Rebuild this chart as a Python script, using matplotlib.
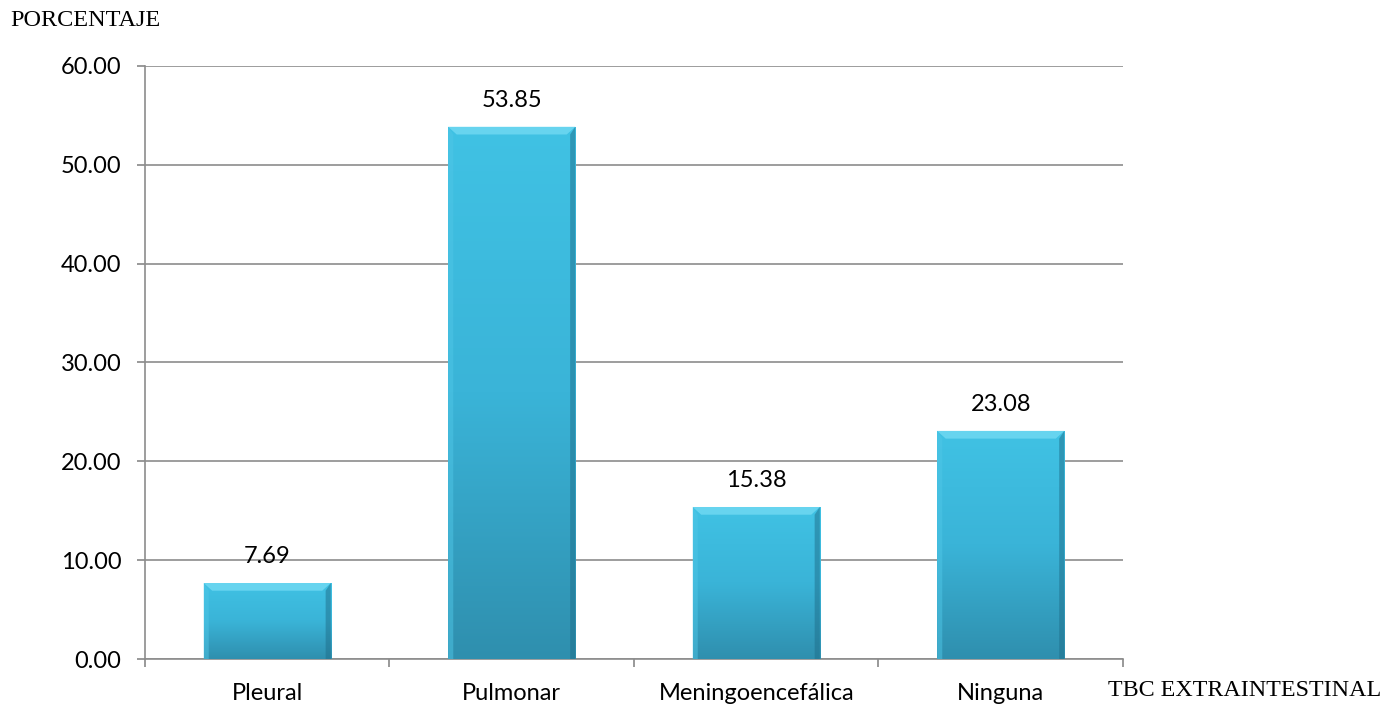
import numpy as np
import matplotlib
matplotlib.use("Agg")
import matplotlib.pyplot as plt
from matplotlib.patches import Polygon
from matplotlib.colors import LinearSegmentedColormap

categories = ["Pleural", "Pulmonar", "Meningoencefálica", "Ninguna"]
values = [7.69, 53.85, 15.38, 23.08]
y_ticks = [0, 10, 20, 30, 40, 50, 60]

fig = plt.figure(figsize=(13.95, 7.08), dpi=100)
ax = fig.add_axes([0.1039, 0.0692, 0.7011, 0.8376])

x = np.arange(len(categories))
width = 0.52
ax.set_xlim(-0.5, len(categories) - 0.5)
ax.set_ylim(0, 60)

grad = LinearSegmentedColormap.from_list("bar", ["#2F8FAE", "#3AB4D8", "#40C2E4"])
bars = ax.bar(x, values, width=width, color="none", edgecolor="none", zorder=3)

# gradient fill and bevelled edges for each bar
bev_x = 0.035
for b, v in zip(bars, values):
    x0 = b.get_x()
    x1 = x0 + b.get_width()
    img = np.linspace(0, 1, 256).reshape(-1, 1)
    im = ax.imshow(img, cmap=grad, origin="lower", aspect="auto",
                   extent=[x0, x1, 0, v], zorder=3, interpolation="bicubic")
    im.set_clip_path(b)
    bev_y = 60 * bev_x / 4 * (978 / 593) * 0.9
    top = Polygon([[x0, v], [x1, v], [x1 - bev_x, v - bev_y], [x0 + bev_x, v - bev_y]],
                  closed=True, facecolor="#6FD8F2", edgecolor="none", alpha=0.85, zorder=4)
    left = Polygon([[x0, v], [x0 + bev_x * 0.6, v - bev_y], [x0 + bev_x * 0.6, 0], [x0, 0]],
                   closed=True, facecolor="#4FC6E6", edgecolor="none", alpha=0.5, zorder=4)
    right = Polygon([[x1, v], [x1 - bev_x * 0.6, v - bev_y], [x1 - bev_x * 0.6, 0], [x1, 0]],
                    closed=True, facecolor="#1F6E8A", edgecolor="none", alpha=0.5, zorder=4)
    for p in (top, left, right):
        ax.add_patch(p)
    ax.text(b.get_x() + b.get_width() / 2, v + 2.0, f"{v:.2f}", ha="center", va="baseline",
            fontsize=17, family="Lato", color="black", zorder=5)

ax.set_yticks(y_ticks)
ax.set_yticklabels([f"{t:.2f}" for t in y_ticks], fontsize=17, family="Lato")
ax.set_xticks(x)
ax.set_xticklabels(categories, fontsize=17, family="Lato")
ax.tick_params(axis="x", length=0, pad=17)
ax.set_xticks(np.arange(-0.5, len(categories)), minor=True)
ax.tick_params(axis="x", which="minor", length=6, color="#888888", width=1.2)
ax.tick_params(axis="y", length=6, color="#888888", width=1.2, pad=11)

ax.grid(axis="y", color="#8C8C8C", linewidth=1.2, zorder=0)
ax.set_axisbelow(True)
for s in ("top", "right"):
    ax.spines[s].set_visible(False)
for s in ("left", "bottom"):
    ax.spines[s].set_color("#8C8C8C")
    ax.spines[s].set_linewidth(1.2)

fig.text(10 / 1395, 1 - 20 / 708, "PORCENTAJE", fontsize=17.5, family="Liberation Serif",
         ha="left", va="center")
fig.text(1108 / 1395, 1 - 690 / 708, "TBC EXTRAINTESTINAL", fontsize=17.3,
         family="Liberation Serif", ha="left", va="center")

fig.savefig("out.png", dpi=100, facecolor="white")
